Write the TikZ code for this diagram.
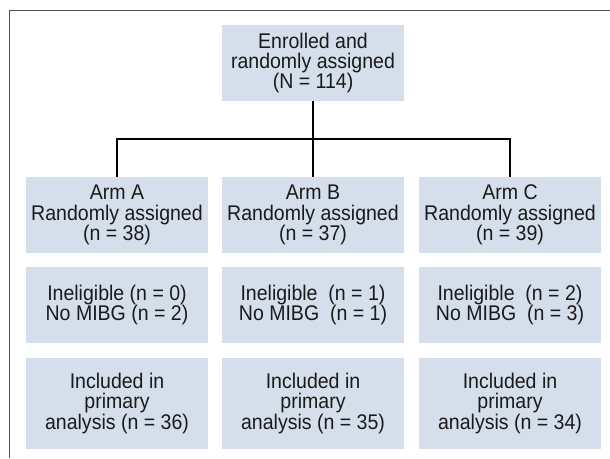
\documentclass[tikz,border=0pt]{standalone}
\usepackage{xcolor}
\usepackage{tikz}
\usepackage{fontspec}
\setmainfont{Liberation Sans}[FakeStretch=0.92]
\definecolor{CFBox}{HTML}{D4DFEB}
\definecolor{CFFrame}{HTML}{505050}
\definecolor{CFText}{HTML}{1A1A1A}

\begin{document}
\begin{tikzpicture}[x=1cm,y=1cm,
  box/.style={fill=CFBox,draw=none,inner sep=0pt,minimum width=4.55cm,minimum height=1.9cm,align=center,text=CFText,font=\fontsize{15.1}{14.4}\selectfont},
  tallbox/.style={box,minimum height=2.275cm},
  link/.style={line width=1.9pt,line join=miter}]
\path[use as bounding box] (0,0) rectangle (15.25,11.45);
\draw[CFFrame,line width=0.9pt] (0.24,0) -- (0.24,11.19) -- (15.25,11.19);
\node[box] (enroll) at (7.825,9.875) {Enrolled and\\randomly assigned\\(N = 114)};
\coordinate (split) at (7.825,7.975);
\node[box] (armA) at (2.925,6.075) {Arm A\\Randomly assigned\\(n = 38)};
\node[box] (armB) at (7.825,6.075) {Arm B\\Randomly assigned\\(n = 37)};
\node[box] (armC) at (12.75,6.075) {Arm C\\Randomly assigned\\(n = 39)};
\node[box] (exclA) at (2.925,3.825) {Ineligible (n = 0)\\No MIBG (n = 2)};
\node[box] (exclB) at (7.825,3.825) {Ineligible\ \ (n = 1)\\No MIBG\ \ (n = 1)};
\node[box] (exclC) at (12.75,3.825) {Ineligible\ \ (n = 2)\\No MIBG\ \ (n = 3)};
\node[tallbox] (anaA) at (2.925,1.3625) {Included in\\primary\\analysis (n = 36)};
\node[tallbox] (anaB) at (7.825,1.3625) {Included in\\primary\\analysis (n = 35)};
\node[tallbox] (anaC) at (12.75,1.3625) {Included in\\primary\\analysis (n = 34)};
\draw[link] (enroll.south) -- (split);
\draw[link] (armA.north) |- (split) -| (armC.north);
\draw[link] (split) -- (armB.north);
\end{tikzpicture}
\end{document}
